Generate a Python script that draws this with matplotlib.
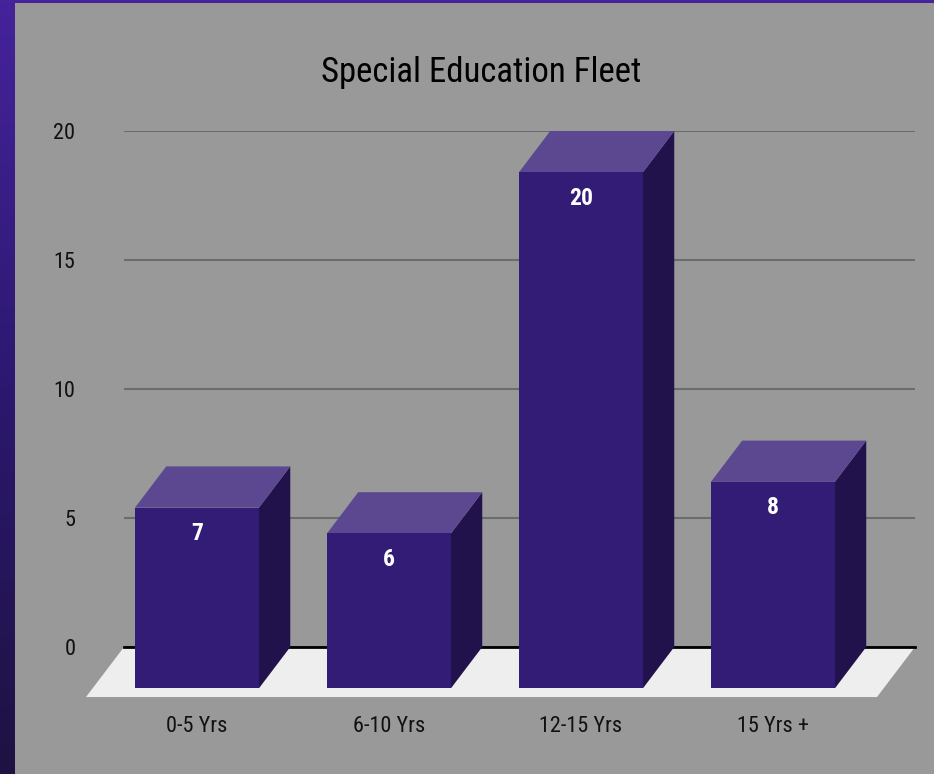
import numpy as np
import matplotlib
matplotlib.use('Agg')
import matplotlib.pyplot as plt
from matplotlib.patches import Polygon
from matplotlib.colors import LinearSegmentedColormap

plt.rcParams['font.family'] = ['Liberation Sans Narrow', 'Roboto Condensed', 'Liberation Sans', 'DejaVu Sans']

# fleet ages
categories = ['0-5 Yrs', '6-10 Yrs', '12-15 Yrs', '15 Yrs +']
counts = [7, 6, 20, 8]
yticks = [0, 5, 10, 15, 20]

# colours of the faces
front_col = '#331c76'
top_col = '#5c4891'
side_col = '#21124b'
bg_col = '#999999'

# fake 3d geometry (data units)
half_w = 0.323
depth_x = 0.163
depth_y = 1.6
floor_dx = 0.198
floor_dy = 1.94

fig = plt.figure(figsize=(9.34, 7.74), dpi=100, facecolor=bg_col)

# purple frame on the left and top
grad = fig.add_axes([0, 0, 15 / 934, 1])
cmap = LinearSegmentedColormap.from_list('frame', ['#45239b', '#2c1870', '#1e1242'])
grad.imshow(np.linspace(0, 1, 256).reshape(-1, 1), aspect='auto', cmap=cmap)
grad.axis('off')
topbar = fig.add_axes([0, 1 - 3 / 774, 1, 3 / 774])
topbar.axis('off')
topbar.add_patch(plt.Rectangle((0, 0), 1, 1, color='#45239b', transform=topbar.transAxes))

ax = fig.add_axes([124 / 934, (774 - 647) / 774, (915 - 124) / 934, (647 - 131) / 774])
ax.set_facecolor('none')
ax.set_xlim(-0.380, 3.740)
ax.set_ylim(0, 20)

for s in ['top', 'right', 'left']:
    ax.spines[s].set_visible(False)
ax.spines['bottom'].set_color('black')
ax.spines['bottom'].set_linewidth(2)
ax.spines['bottom'].set_zorder(2)

ax.set_yticks(yticks)
ax.set_yticklabels([str(t) for t in yticks])
ax.tick_params(axis='y', length=0, pad=35, labelsize=16, labelcolor='#111111')
ax.set_xticks(range(len(categories)))
ax.set_xticklabels(categories)
ax.tick_params(axis='x', length=0, pad=50, labelsize=16, labelcolor='#111111')
ax.yaxis.grid(True, color='#6c6c6c', linewidth=1.5, zorder=1)
ax.set_axisbelow(True)

# floor
x0, x1 = ax.get_xlim()
floor = Polygon([(x0, 0), (x1, 0), (x1 - floor_dx, -floor_dy), (x0 - floor_dx, -floor_dy)],
                closed=True, facecolor='#eeeeee', edgecolor='none', clip_on=False, zorder=1.5)
ax.add_patch(floor)

for i, v in enumerate(counts):
    l, r = i - half_w, i + half_w
    front = Polygon([(l, -depth_y), (r, -depth_y), (r, v - depth_y), (l, v - depth_y)],
                    facecolor=front_col, edgecolor='none', clip_on=False, zorder=3)
    top = Polygon([(l, v - depth_y), (r, v - depth_y), (r + depth_x, v), (l + depth_x, v)],
                  facecolor=top_col, edgecolor='none', clip_on=False, zorder=3)
    side = Polygon([(r, -depth_y), (r + depth_x, 0), (r + depth_x, v), (r, v - depth_y)],
                   facecolor=side_col, edgecolor='none', clip_on=False, zorder=3)
    for p in (side, top, front):
        ax.add_patch(p)
    ax.text(i, v - depth_y - 1.0, str(v), ha='center', va='center', color='white',
            fontsize=17, fontweight='bold', zorder=4)

fig.text(481 / 934, (774 - 82) / 774, 'Special Education Fleet', ha='center', va='baseline',
         fontsize=25, color='black')

fig.savefig('out.png', dpi=100, facecolor=bg_col)
